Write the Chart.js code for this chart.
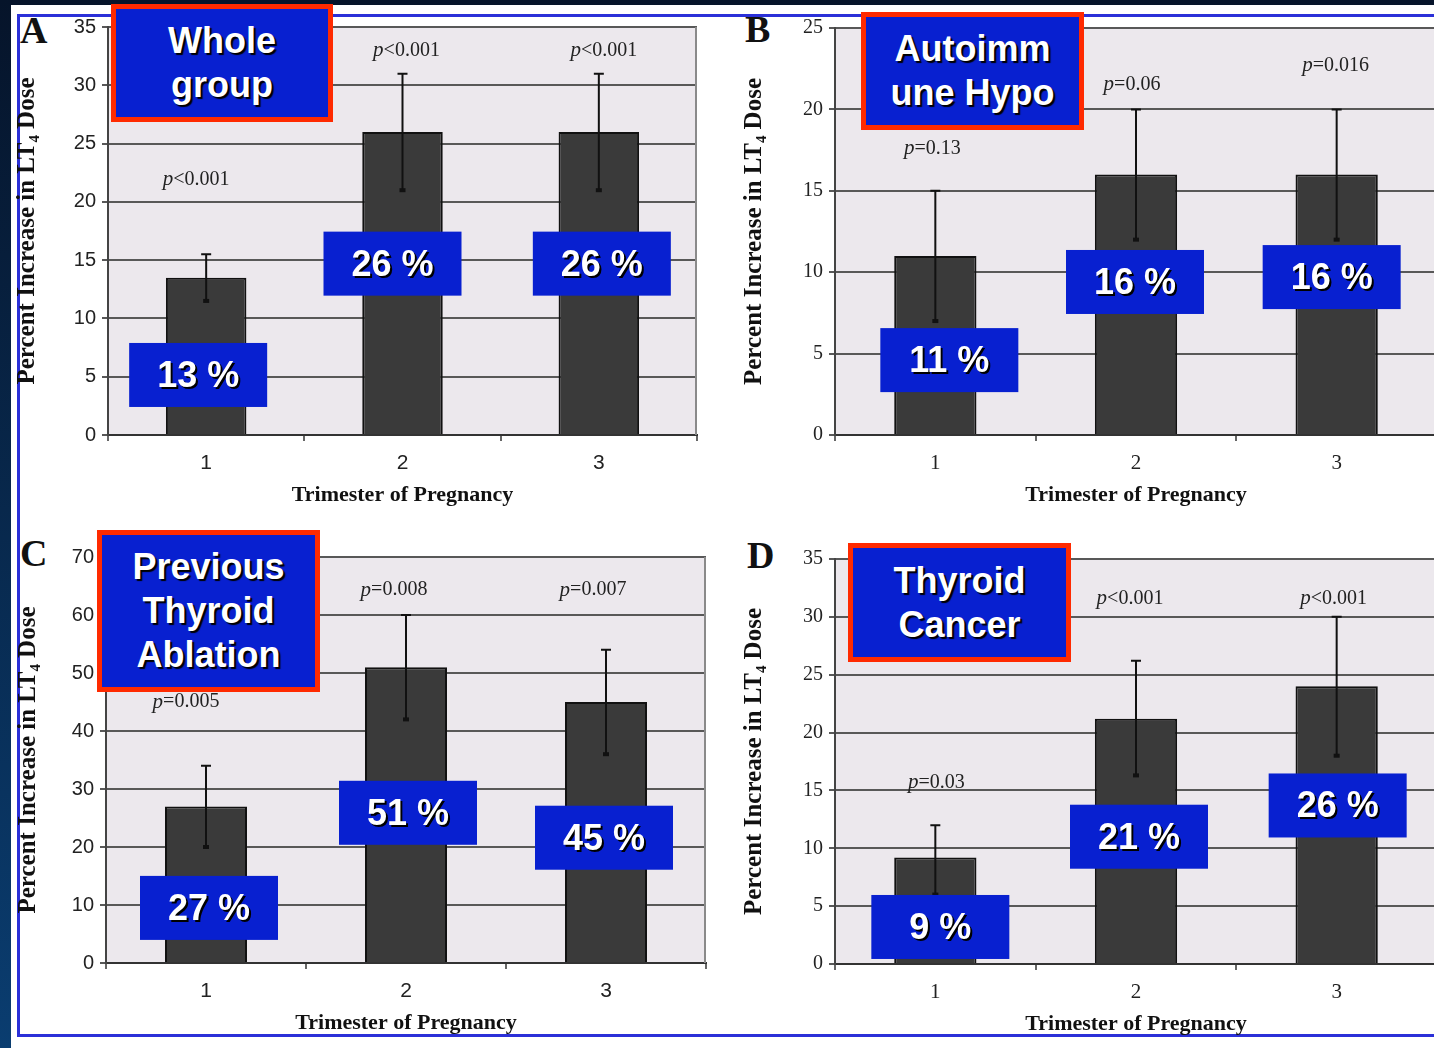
<!DOCTYPE html>
<html>
<head>
<meta charset="utf-8">
<script src="https://cdn.jsdelivr.net/npm/chart.js@4.4.1/dist/chart.umd.min.js"></script>
<style>
body{margin:0;width:1434px;height:1048px;overflow:hidden;position:relative;background:linear-gradient(#06142a,#0a3d70);font-family:"Liberation Sans",Arial,sans-serif}
#sheet{position:absolute;left:11px;top:5px;width:1423px;height:1043px;background:#fff}
#frame{position:absolute;left:17px;top:14px;width:1430px;height:1017px;border:3px solid #2b30d8;border-right:none}
canvas{position:absolute}
.tag{position:absolute;box-sizing:border-box;border:5px solid #ff2a00;background:#0820d0;color:#fff;font-weight:bold;font-size:36px;line-height:44px;text-align:center;display:flex;align-items:center;justify-content:center;text-shadow:2px 2px 1px #000}
.letter{position:absolute;font-family:"Liberation Serif","Times New Roman",serif;font-weight:bold;font-size:38px;line-height:1;color:#111}
</style>
</head>
<body>
<div id="sheet"></div>
<div id="frame"></div>

<div class="letter" style="left:20px;top:11px">A</div>
<div class="letter" style="left:745px;top:10px">B</div>
<div class="letter" style="left:20px;top:534px">C</div>
<div class="letter" style="left:747px;top:536px">D</div>

<canvas id="chart-a"></canvas>
<canvas id="chart-b"></canvas>
<canvas id="chart-c"></canvas>
<canvas id="chart-d"></canvas>

<div class="tag" style="left:111px;top:4px;width:222px;height:118px">Whole<br>group</div>
<div class="tag" style="left:861px;top:12px;width:223px;height:118px">Autoimm<br>une Hypo</div>
<div class="tag" style="left:97px;top:530px;width:223px;height:162px">Previous<br>Thyroid<br>Ablation</div>
<div class="tag" style="left:848px;top:543px;width:223px;height:119px">Thyroid<br>Cancer</div>

<script>
// data
var trimesters = ['1', '2', '3'];

var wholeMean = [13.5, 26, 26];
var wholeLow = [11.5, 21, 21];
var wholeHigh = [15.5, 31, 31];
var wholeP = ['<0.001', '<0.001', '<0.001'];
var wholePct = ['13 %', '26 %', '26 %'];
var wholeAxis = [0, 35, 5];

var autoMean = [11, 16, 16];
var autoLow = [7, 12, 12];
var autoHigh = [15, 20, 20];
var autoP = ['=0.13', '=0.06', '=0.016'];
var autoPct = ['11 %', '16 %', '16 %'];
var autoAxis = [0, 25, 5];

var ablMean = [27, 51, 45];
var ablLow = [20, 42, 36];
var ablHigh = [34, 60, 54];
var ablP = ['=0.005', '=0.008', '=0.007'];
var ablPct = ['27 %', '51 %', '45 %'];
var ablAxis = [0, 70, 10];

var canMean = [9.2, 21.2, 24];
var canLow = [6, 16.3, 18];
var canHigh = [12, 26.2, 30];
var canP = ['=0.03', '<0.001', '<0.001'];
var canPct = ['9 %', '21 %', '26 %'];
var canAxis = [0, 35, 5];

var serif = "'Liberation Serif','Times New Roman',serif";
var sans = "'Liberation Sans',Arial,sans-serif";

// where things sit: plot area in page pixels, annotation anchors (value + x nudge)
var panels = [
  {id: 'chart-a', area: [108, 27, 697, 435], mean: wholeMean, low: wholeLow, high: wholeHigh, p: wholeP, pct: wholePct, axis: wholeAxis, tickFont: sans, titlePad: 5,
   pAt: [21.9, 33, 33], pDx: [-10, 4, 5], boxAt: [5.15, 14.7, 14.7], boxDx: [-8, -10, 3]},
  {id: 'chart-b', area: [835, 28, 1437, 435], mean: autoMean, low: autoLow, high: autoHigh, p: autoP, pct: autoPct, axis: autoAxis, tickFont: serif, titlePad: 5,
   pAt: [17.6, 21.5, 22.7], pDx: [-3, -4, -1], boxAt: [4.6, 9.4, 9.7], boxDx: [14, -1, -5]},
  {id: 'chart-c', area: [106, 557, 706, 963], mean: ablMean, low: ablLow, high: ablHigh, p: ablP, pct: ablPct, axis: ablAxis, tickFont: sans, titlePad: 8,
   pAt: [45, 64.3, 64.3], pDx: [-20, -12, -13], boxAt: [9.5, 25.9, 21.6], boxDx: [3, 2, -2]},
  {id: 'chart-d', area: [835, 559, 1437, 964], mean: canMean, low: canLow, high: canHigh, p: canP, pct: canPct, axis: canAxis, tickFont: serif, titlePad: 5,
   pAt: [15.7, 31.6, 31.6], pDx: [1, -6, -3], boxAt: [3.2, 11.0, 13.7], boxDx: [5, 3, 1]}
];

var padLeft = 100, padTop = 22, padRight = 8, padBottom = 80;

var extrasPlugin = {
  id: 'extras',
  beforeDraw: function(chart) {
    var a = chart.chartArea, ctx = chart.ctx;
    ctx.save();
    ctx.fillStyle = '#ece8ed';
    ctx.fillRect(a.left, a.top, a.right - a.left, a.bottom - a.top);
    ctx.restore();
  },
  beforeDatasetsDraw: function(chart) {
    var a = chart.chartArea, ctx = chart.ctx;
    ctx.save();
    ctx.strokeStyle = '#8a8a8a';
    ctx.lineWidth = 2;
    ctx.beginPath();
    ctx.moveTo(a.right - 1, a.top);
    ctx.lineTo(a.right - 1, a.bottom);
    ctx.stroke();
    ctx.restore();
  },
  afterDatasetsDraw: function(chart) {
    var p = chart.options.plugins.extras.panel;
    var ctx = chart.ctx, xs = chart.scales.x, ys = chart.scales.y;
    ctx.save();
    for (var i = 0; i < p.mean.length; i++) {
      var x = xs.getPixelForValue(i);
      // error bar
      var top = ys.getPixelForValue(p.high[i]);
      var bot = ys.getPixelForValue(p.low[i]);
      ctx.strokeStyle = '#111';
      ctx.lineWidth = 2;
      ctx.beginPath();
      ctx.moveTo(x, top); ctx.lineTo(x, bot);
      ctx.moveTo(x - 5, top); ctx.lineTo(x + 5, top);
      ctx.stroke();
      ctx.lineWidth = 4;
      ctx.beginPath();
      ctx.moveTo(x - 3, bot); ctx.lineTo(x + 3, bot);
      ctx.stroke();

      // p value text
      var py = ys.getPixelForValue(p.pAt[i]);
      ctx.fillStyle = '#222';
      ctx.textBaseline = 'middle';
      ctx.textAlign = 'left';
      ctx.font = 'italic 21px ' + serif;
      var w1 = ctx.measureText('p').width;
      ctx.font = '20px ' + serif;
      var w2 = ctx.measureText(p.p[i]).width;
      var sx = x + p.pDx[i] - (w1 + w2) / 2;
      ctx.font = 'italic 21px ' + serif;
      ctx.fillText('p', sx, py);
      ctx.font = '20px ' + serif;
      ctx.fillText(p.p[i], sx + w1, py);

      // percent box
      var bx = x + p.boxDx[i], by = ys.getPixelForValue(p.boxAt[i]);
      ctx.fillStyle = '#0820d0';
      ctx.fillRect(bx - 69, by - 32, 138, 64);
      ctx.font = 'bold 36px ' + sans;
      ctx.textAlign = 'center';
      ctx.fillStyle = '#000';
      ctx.fillText(p.pct[i], bx + 2, by + 4);
      ctx.fillStyle = '#fff';
      ctx.fillText(p.pct[i], bx, by + 2);
    }
    ctx.restore();
  }
};

function makeChart(p) {
  var canvas = document.getElementById(p.id);
  var l = p.area[0], t = p.area[1], r = p.area[2], b = p.area[3];
  canvas.width = (r - l) + padLeft + padRight;
  canvas.height = (b - t) + padTop + padBottom;
  canvas.style.left = (l - padLeft) + 'px';
  canvas.style.top = (t - padTop) + 'px';

  return new Chart(canvas.getContext('2d'), {
    type: 'bar',
    data: {
      labels: trimesters,
      datasets: [{
        data: p.mean,
        backgroundColor: '#3a3a3a',
        borderColor: '#111',
        borderWidth: 2,
        categoryPercentage: 1,
        barPercentage: 0.41
      }]
    },
    options: {
      responsive: false,
      devicePixelRatio: 1,
      animation: false,
      layout: {padding: {left: 0, top: padTop, right: padRight, bottom: 0}},
      plugins: {
        legend: {display: false},
        tooltip: {enabled: false},
        extras: {panel: p}
      },
      scales: {
        x: {
          grid: {drawOnChartArea: false, drawTicks: true, tickLength: 6, color: '#666', lineWidth: 2},
          border: {display: true, color: '#333', width: 2},
          ticks: {color: '#222', padding: 10, font: {family: p.tickFont, size: 21}},
          title: {display: true, text: 'Trimester of Pregnancy', color: '#111', padding: {top: 4, bottom: 6},
                  font: {family: serif, size: 22, weight: 'bold'}},
          afterFit: function(s) { s.height = padBottom; }
        },
        y: {
          min: p.axis[0],
          max: p.axis[1],
          ticks: {stepSize: p.axis[2], color: '#222', padding: 6, font: {family: p.tickFont, size: 20}},
          grid: {color: '#585858', lineWidth: 2, tickLength: 6},
          border: {display: true, color: '#444', width: 2},
          title: {display: true, text: 'Percent Increase in LT\u2084 Dose', color: '#111', padding: {top: p.titlePad, bottom: 0},
                  font: {family: serif, size: 25, weight: 'bold'}},
          afterFit: function(s) { s.width = padLeft; }
        }
      }
    },
    plugins: [extrasPlugin]
  });
}

for (var i = 0; i < panels.length; i++) {
  makeChart(panels[i]);
}
</script>
</body>
</html>
